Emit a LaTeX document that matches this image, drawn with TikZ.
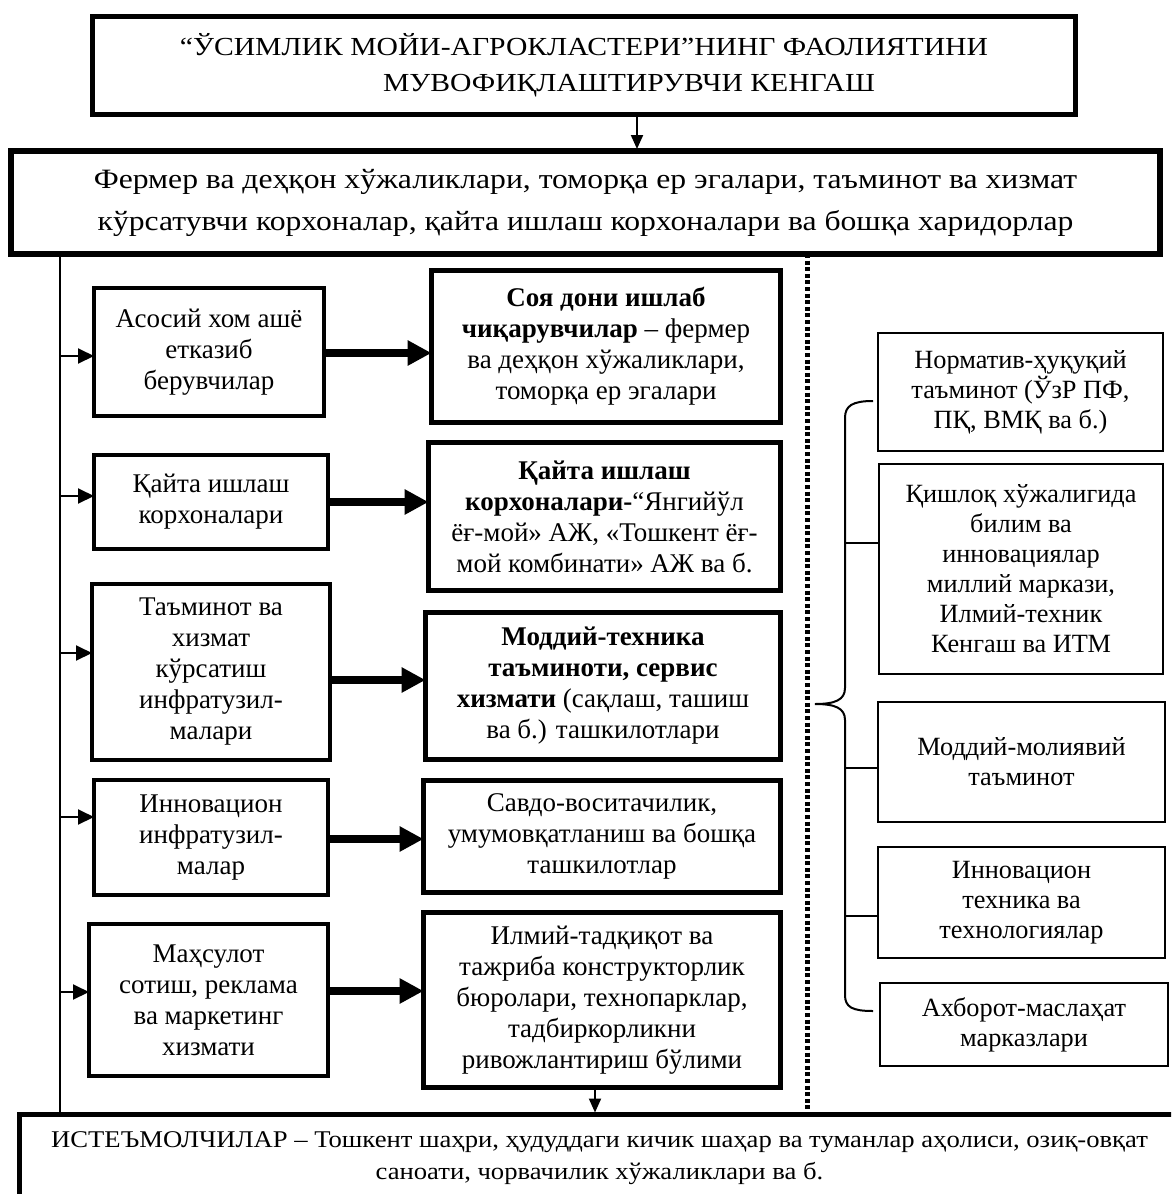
\documentclass[tikz,border=0pt]{standalone}
\usepackage{fontspec}
\setmainfont{Liberation Serif}
\newfontfamily\titlefont[FakeStretch=1.14]{Liberation Serif}
\newfontfamily\farmfont[FakeStretch=1.13]{Liberation Serif}
\newfontfamily\consfont[FakeStretch=1.11]{Liberation Serif}
\usetikzlibrary{arrows.meta,calc}
\begin{document}
\begin{tikzpicture}[x=1pt,y=-1pt,
  every node/.style={inner sep=0pt, outer sep=0pt, align=center},
  titlebox/.style={draw, line width=5pt, font=\titlefont\fontsize{26}{36}\selectfont},
  widebox/.style={draw, line width=5.5pt, font=\farmfont\fontsize{28}{42}\selectfont},
  lbox/.style={draw, line width=4pt, font=\fontsize{27}{31}\selectfont},
  mbox/.style={draw, line width=5pt, font=\fontsize{27}{31}\selectfont},
  rbox/.style={draw, line width=2pt, font=\fontsize{26.3}{30}\selectfont},
  botbox/.style={draw, line width=5pt, font=\consfont\fontsize{24}{32}\selectfont},
  thinarrow/.style={line width=2pt, -{Triangle[length=16pt,width=15pt]}},
  fatarrow/.style={line width=8pt, -{Triangle[length=24pt,width=24pt]}},
  downarrow/.style={line width=2pt, -{Triangle[length=14pt,width=12pt]}, shorten >=2pt},
  vline/.style={line width=1.8pt},
  dotline/.style={line width=5pt, dash pattern=on 4pt off 2.6pt},
  bracestyle/.style={line width=2pt},
]
\useasboundingbox (0,0) rectangle (1171,1194);
\clip (0,0) rectangle (1171,1194);
\fill[white] (0,0) rectangle (1171,1194);

% top boxes
\node[titlebox, minimum width=983pt, minimum height=98pt] (title) at (584,65.5)
  {“ЎСИМЛИК МОЙИ-АГРОКЛАСТЕРИ”НИНГ ФАОЛИЯТИНИ\\\hspace*{90pt}МУВОФИҚЛАШТИРУВЧИ КЕНГАШ};
\node[widebox, minimum width=1149pt, minimum height=103pt] (farm) at (585.5,202.5)
  {Фермер ва деҳқон хўжаликлари, томорқа ер эгалари, таъминот ва хизмат\\кўрсатувчи корхоналар, қайта ишлаш корхоналари ва бошқа харидорлар};

% left column
\node[lbox, minimum width=230pt, minimum height=128pt] (l1) at (209,352) {Асосий хом ашё\\етказиб\\берувчилар};
\node[lbox, minimum width=234pt, minimum height=94pt] (l2) at (211,502) {Қайта ишлаш\\корхоналари};
\node[lbox, minimum width=238pt, minimum height=176pt] (l3) at (211,672) {Таъминот ва\\хизмат\\кўрсатиш\\инфратузил-\\малари};
\node[lbox, minimum width=234pt, minimum height=115pt] (l4) at (211,837.5) {Инновацион\\инфратузил-\\малар};
\node[lbox, minimum width=239pt, minimum height=152pt] (l5) at (208.5,1000) {Маҳсулот\\сотиш, реклама\\ва маркетинг\\хизмати};

% middle column
\node[mbox, minimum width=349pt, minimum height=152pt] (m1) at (606,346.5)
  {\textbf{Соя дони ишлаб}\\\textbf{чиқарувчилар} – фермер\\ва деҳқон хўжаликлари,\\томорқа ер эгалари};
\node[mbox, minimum width=352pt, minimum height=148pt] (m2) at (604.5,516.5)
  {\textbf{Қайта ишлаш}\\\textbf{корхоналари-}“Янгийўл\\ёғ-мой» АЖ, «Тошкент ёғ-\\мой комбинати» АЖ ва б.};
\node[mbox, minimum width=355pt, minimum height=147pt] (m3) at (603,686)
  {\textbf{Моддий-техника}\\\textbf{таъминоти, сервис}\\\textbf{хизмати} (сақлаш, ташиш\\ва б.) ташкилотлари};
\node[mbox, minimum width=357pt, minimum height=112pt] (m4) at (602,836.5)
  {Савдо-воситачилик,\\умумовқатланиш ва бошқа\\ташкилотлар};
\node[mbox, minimum width=357pt, minimum height=175pt] (m5) at (602,1000)
  {Илмий-тадқиқот ва\\тажриба конструкторлик\\бюролари, технопарклар,\\тадбиркорликни\\ривожлантириш бўлими};

% right column
\node[rbox, minimum width=285pt, minimum height=118pt] (r1) at (1020.5,392) {Норматив-ҳуқуқий\\таъминот (ЎзР ПФ,\\ПҚ, ВМҚ ва б.)};
\node[rbox, minimum width=284pt, minimum height=210pt] (r2) at (1021,569) {Қишлоқ хўжалигида\\билим ва\\инновациялар\\миллий маркази,\\Илмий-техник\\Кенгаш ва ИТМ};
\node[rbox, minimum width=287pt, minimum height=120pt] (r3) at (1021.5,762) {Моддий-молиявий\\таъминот};
\node[rbox, minimum width=287pt, minimum height=111pt] (r4) at (1021.5,902.5) {Инновацион\\техника ва\\технологиялар};
\node[rbox, minimum width=288pt, minimum height=83pt] (r5) at (1024,1024.5) {Ахборот-маслаҳат\\марказлари};

% bottom box
\node[botbox, minimum width=1160pt, minimum height=88pt, anchor=north west] (cons) at (19.5,1114.5)
  {ИСТЕЪМОЛЧИЛАР – Тошкент шаҳри, ҳудуддаги кичик шаҳар ва туманлар аҳолиси, озиқ-овқат\\саноати, чорвачилик хўжаликлари ва б.};

% vertical lines
\coordinate (vl) at (60,0);
\coordinate (dl) at (807,0);
\draw[vline] (farm.south -| vl) -- (cons.north -| vl);
\draw[dotline] (farm.south -| dl) -- (cons.north -| dl);

% arrows
\coordinate (ta) at (637,0);
\draw[downarrow] (title.south -| ta) -- (farm.north -| ta);
\coordinate (ba) at (595,0);
\draw[downarrow] (m5.south -| ba) -- (cons.north -| ba);
\foreach \n/\y in {l1/356, l2/496, l3/653, l4/817, l5/992}
  \draw[thinarrow] (vl |- 0,\y) -- (\n.west |- 0,\y);
\foreach \a/\b/\y in {l1/m1/353, l2/m2/502, l3/m3/680, l4/m4/839, l5/m5/991}
  \draw[fatarrow] (\a.east |- 0,\y) -- (\b.west |- 0,\y);

% brace
\draw[bracestyle] (873,401) .. controls (852,401) and (845,406) .. (845,418) -- (845,688)
  .. controls (845,700) and (835,704) .. (815,704)
  .. controls (835,704) and (845,708) .. (845,720) -- (845,995)
  .. controls (845,1007) and (852,1011) .. (873,1011);
\foreach \n/\y in {r2/543, r3/768, r4/916}
  \draw[bracestyle] (845,\y) -- (\n.west |- 0,\y);
\end{tikzpicture}
\end{document}
